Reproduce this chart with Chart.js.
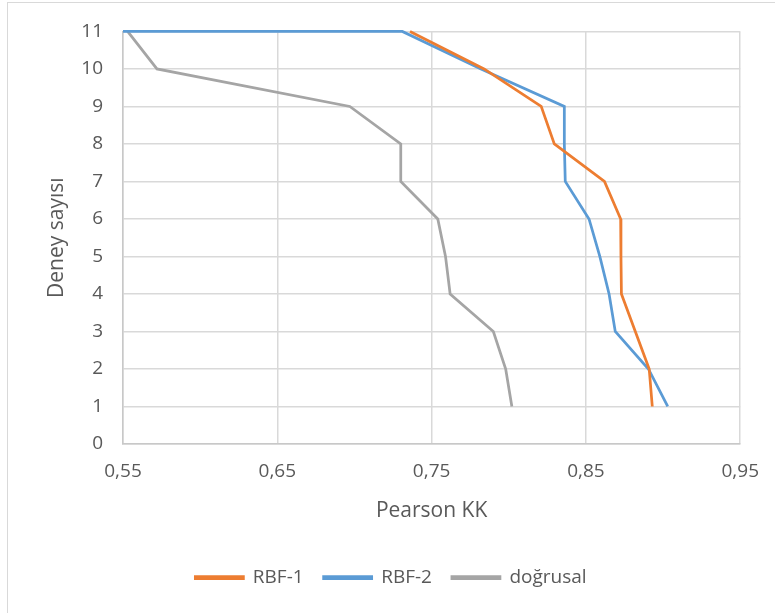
<!DOCTYPE html>
<html>
<head>
<meta charset="utf-8">
<script src="https://cdn.jsdelivr.net/npm/chart.js@4.4.0/dist/chart.umd.min.js"></script>
<style>
  body { margin: 0; background: #fff; }
  #wrap { position: absolute; left: 0; top: 0; width: 775px; height: 613px; }
  #frame { position: absolute; left: 7px; top: 2px; right: 0; bottom: 0; border-left: 1px solid #d9d9d9; border-top: 1px solid #d9d9d9; pointer-events: none; }
</style>
</head>
<body>
<div id="wrap">
  <canvas id="chart" width="775" height="613"></canvas>
  <div id="frame"></div>
</div>
<script>
// experiment count (y) for each series
const rbf1Runs = [11, 10, 9, 8, 7, 6, 5, 4, 3, 2, 1];
const rbf1Pearson = [0.736, 0.784, 0.821, 0.8295, 0.862, 0.8725, 0.8727, 0.873, 0.882, 0.891, 0.893];

// RBF-2 runs along the top edge from the left axis
const rbf2Runs = [11, 11, 10, 9, 8, 7, 6, 5, 4, 3, 2, 1];
const rbf2Pearson = [0.55, 0.731, 0.782, 0.836, 0.836, 0.8366, 0.852, 0.859, 0.865, 0.869, 0.8905, 0.903];

const linRuns = [11, 10, 9, 8, 7, 6, 5, 4, 3, 2, 1];
const linPearson = [0.553, 0.572, 0.697, 0.730, 0.730, 0.754, 0.759, 0.762, 0.790, 0.798, 0.802];

const yTicks = [0, 1, 2, 3, 4, 5, 6, 7, 8, 9, 10, 11];
const xTicks = [0.55, 0.65, 0.75, 0.85, 0.95];

function toPoints(xs, ys) {
  return xs.map((x, i) => ({ x: x, y: ys[i] }));
}

const fontFamily = "'Open Sans', sans-serif";
const textColor = "#595959";
const gridColor = "#d9d9d9";

function lineSet(label, xs, ys, color) {
  return {
    label: label,
    data: toPoints(xs, ys),
    showLine: true,
    borderColor: color,
    backgroundColor: color,
    borderWidth: 2.75,
    pointRadius: 0,
    tension: 0,
    clip: 2
  };
}

const ctx = document.getElementById("chart").getContext("2d");
new Chart(ctx, {
  type: "scatter",
  data: {
    datasets: [
      lineSet("RBF-1", rbf1Pearson, rbf1Runs, "#ED7D31"),
      lineSet("RBF-2", rbf2Pearson, rbf2Runs, "#5B9BD5"),
      lineSet("doğrusal", linPearson, linRuns, "#A5A5A5")
    ]
  },
  options: {
    responsive: false,
    animation: false,
    layout: { padding: { left: 40, right: 33, top: 26, bottom: 16 } },
    scales: {
      x: {
        type: "linear",
        min: xTicks[0],
        max: xTicks[xTicks.length - 1],
        afterBuildTicks: axis => { axis.ticks = xTicks.map(v => ({ value: v })); },
        afterFit: axis => { axis.height = 104; },
        ticks: {
          color: textColor,
          font: { family: fontFamily, size: 19 },
          padding: 16,
          callback: v => v.toFixed(2).replace(".", ",")
        },
        grid: { color: gridColor, lineWidth: 1.5, drawTicks: false },
        border: { color: "#c8c8c8", width: 1.5 },
        title: {
          display: true,
          text: "Pearson KK",
          color: textColor,
          font: { family: fontFamily, size: 21 },
          padding: { top: 10, bottom: 24 }
        }
      },
      y: {
        type: "linear",
        min: 0,
        max: 11,
        afterBuildTicks: axis => { axis.ticks = yTicks.map(v => ({ value: v })); },
        afterFit: axis => { axis.width = 83; },
        ticks: {
          color: textColor,
          font: { family: fontFamily, size: 19 },
          padding: 20
        },
        grid: { color: gridColor, lineWidth: 1.5, drawTicks: false },
        border: { color: "#c8c8c8", width: 1.5 },
        title: {
          display: true,
          text: "Deney sayısı",
          color: textColor,
          font: { family: fontFamily, size: 21 },
          padding: { top: 4, bottom: 8 }
        }
      }
    },
    plugins: {
      legend: {
        position: "bottom",
        labels: {
          color: textColor,
          font: { family: fontFamily, size: 19 },
          boxWidth: 48,
          boxHeight: 2,
          padding: 20
        }
      },
      tooltip: { enabled: false }
    }
  }
});
</script>
</body>
</html>
